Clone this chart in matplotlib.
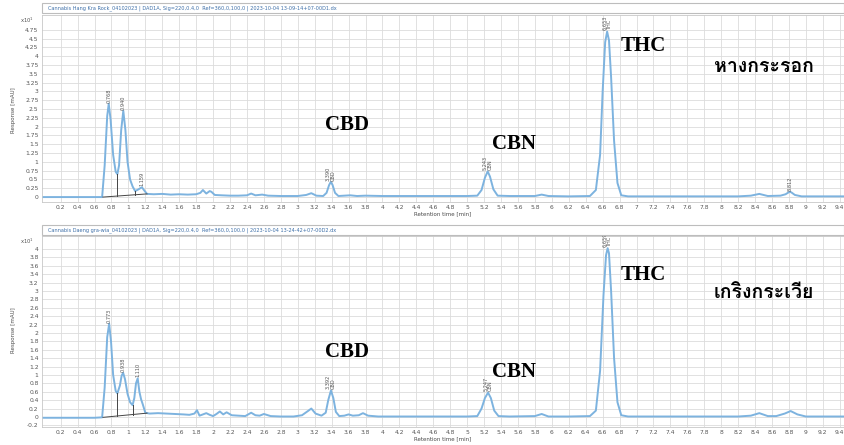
import numpy as np
import matplotlib
matplotlib.use("Agg")
import matplotlib.pyplot as plt
from matplotlib import font_manager as fm
from matplotlib.ft2font import FT2Font
from matplotlib.patches import Rectangle

# ---------------- data ----------------
top_title = "Cannabis Hang Kra Rock_04102023 | DAD1A, Sig=220,0.4,0  Ref=360,0,100,0 | 2023-10-04 13-09-14+07-00D1.dx"
bot_title = "Cannabis Daeng gra-wia_04102023 | DAD1A, Sig=220,0.4,0  Ref=360,0,100,0 | 2023-10-04 13-24-42+07-00D2.dx"

top_t = [0.00, 0.30, 0.60, 0.69, 0.72, 0.75, 0.768, 0.79, 0.82, 0.85, 0.87, 0.89, 0.915, 0.94, 0.965,
         0.99, 1.02, 1.05, 1.08, 1.12, 1.159, 1.19, 1.22, 1.30, 1.40, 1.50, 1.60, 1.70, 1.80, 1.85,
         1.88, 1.92, 1.96, 1.98, 2.02, 2.10, 2.20, 2.30, 2.40, 2.45, 2.50, 2.58, 2.65, 2.80, 3.00,
         3.10, 3.16, 3.22, 3.30, 3.34, 3.37, 3.39, 3.41, 3.44, 3.48, 3.55, 3.62, 3.70, 3.80, 4.00,
         4.50, 5.00, 5.12, 5.17, 5.21, 5.243, 5.27, 5.31, 5.36, 5.50, 5.80, 5.88, 5.96, 6.20, 6.45,
         6.52, 6.57, 6.60, 6.63, 6.653, 6.675, 6.70, 6.735, 6.775, 6.82, 6.90, 7.50, 8.20, 8.35,
         8.45, 8.55, 8.70, 8.76, 8.80, 8.812, 8.83, 8.87, 8.95, 9.45]
top_y = [0.00, 0.00, 0.00, 0.00, 0.90, 2.30, 2.65, 2.20, 1.20, 0.72, 0.65, 0.90, 1.90, 2.45, 1.90,
         1.00, 0.50, 0.30, 0.17, 0.22, 0.28, 0.18, 0.09, 0.08, 0.09, 0.07, 0.08, 0.07, 0.08, 0.12,
         0.20, 0.10, 0.17, 0.15, 0.06, 0.05, 0.04, 0.04, 0.05, 0.10, 0.05, 0.07, 0.04, 0.03, 0.03,
         0.06, 0.11, 0.04, 0.03, 0.12, 0.34, 0.43, 0.35, 0.12, 0.03, 0.04, 0.05, 0.03, 0.04, 0.03,
         0.03, 0.03, 0.04, 0.20, 0.55, 0.73, 0.58, 0.22, 0.04, 0.03, 0.03, 0.07, 0.03, 0.02, 0.03,
         0.20, 1.20, 3.00, 4.40, 4.70, 4.45, 3.40, 1.60, 0.40, 0.05, 0.02, 0.02, 0.02, 0.04,
         0.09, 0.03, 0.04, 0.08, 0.14, 0.15, 0.13, 0.06, 0.02, 0.02]

bot_t = [0.00, 0.30, 0.60, 0.69, 0.72, 0.75, 0.773, 0.795, 0.82, 0.85, 0.87, 0.90, 0.92, 0.938, 0.96,
         0.99, 1.02, 1.05, 1.07, 1.09, 1.110, 1.13, 1.15, 1.17, 1.20, 1.25, 1.35, 1.45, 1.55, 1.65,
         1.72, 1.78, 1.81, 1.84, 1.88, 1.92, 1.96, 2.00, 2.04, 2.08, 2.12, 2.16, 2.22, 2.30, 2.38,
         2.45, 2.50, 2.55, 2.60, 2.68, 2.80, 2.95, 3.05, 3.12, 3.16, 3.21, 3.28, 3.33, 3.36, 3.392,
         3.42, 3.45, 3.49, 3.55, 3.60, 3.65, 3.72, 3.77, 3.83, 3.95, 4.50, 5.00, 5.12, 5.17, 5.21,
         5.247, 5.28, 5.32, 5.37, 5.50, 5.80, 5.88, 5.96, 6.20, 6.45, 6.52, 6.57, 6.61, 6.64, 6.659,
         6.675, 6.70, 6.735, 6.775, 6.82, 6.90, 7.50, 8.20, 8.35, 8.45, 8.55, 8.65, 8.75, 8.82,
         8.90, 9.00, 9.45]
bot_y = [-0.02, -0.02, -0.02, -0.01, 0.70, 1.90, 2.22, 1.80, 1.00, 0.62, 0.56, 0.75, 0.98, 1.05, 0.90,
         0.55, 0.35, 0.28, 0.45, 0.80, 0.92, 0.60, 0.42, 0.30, 0.10, 0.08, 0.09, 0.08, 0.07, 0.06,
         0.05, 0.08, 0.16, 0.03, 0.06, 0.09, 0.05, 0.02, 0.07, 0.13, 0.06, 0.11, 0.04, 0.03, 0.02,
         0.10, 0.04, 0.03, 0.07, 0.02, 0.01, 0.01, 0.04, 0.14, 0.20, 0.08, 0.03, 0.10, 0.40, 0.63,
         0.45, 0.12, 0.02, 0.03, 0.06, 0.03, 0.04, 0.09, 0.03, 0.01, 0.01, 0.01, 0.02, 0.20, 0.45,
         0.58, 0.45, 0.15, 0.02, 0.01, 0.02, 0.07, 0.01, 0.01, 0.02, 0.15, 1.10, 2.90, 3.85, 4.02,
         3.90, 3.00, 1.40, 0.35, 0.04, 0.01, 0.01, 0.01, 0.03, 0.09, 0.02, 0.02, 0.08, 0.14,
         0.06, 0.01, 0.01]

# integration baselines and drop lines
top_base_t = [0.70, 1.22]
top_base_y = [0.00, 0.09]
top_drops = [0.87, 1.08]
bot_base_t = [0.70, 1.22]
bot_base_y = [-0.01, 0.09]
bot_drops = [0.87, 1.05]

# peak labels: retention time, apex height, texts
top_peaks_t = [0.768, 0.940, 1.159, 3.390, 5.243, 6.653, 8.812]
top_peaks_y = [2.65, 2.45, 0.28, 0.43, 0.73, 4.70, 0.15]
top_peaks_lab = [["0.768"], ["0.940"], ["1.159"], ["3.390", "CBD"], ["5.243", "CBN"], ["6.653", "THC"], ["8.812"]]
bot_peaks_t = [0.773, 0.938, 1.110, 3.392, 5.247, 6.659]
bot_peaks_y = [2.22, 1.05, 0.92, 0.63, 0.58, 4.02]
bot_peaks_lab = [["0.773"], ["0.938"], ["1.110"], ["3.392", "CBD"], ["5.247", "CBN"], ["6.659", "THC"]]

# big annotations (x in min, y in data units)
top_notes = [("CBD", 3.58, 2.05), ("CBN", 5.55, 1.50), ("THC", 7.08, 4.30)]
bot_notes = [("CBD", 3.58, 1.55), ("CBN", 5.55, 1.07), ("THC", 7.08, 3.37)]
top_name = ("หางกระรอก", 8.5, 3.70)
bot_name = ("เกริงกระเวีย", 8.5, 2.95)

top_yticks = [0, 0.25, 0.5, 0.75, 1, 1.25, 1.5, 1.75, 2, 2.25, 2.5, 2.75, 3, 3.25, 3.5, 3.75, 4, 4.25, 4.5, 4.75]
bot_yticks = [-0.2, 0, 0.2, 0.4, 0.6, 0.8, 1, 1.2, 1.4, 1.6, 1.8, 2, 2.2, 2.4, 2.6, 2.8, 3, 3.2, 3.4, 3.6, 3.8, 4]
xticks = [round(0.2 * i, 1) for i in range(1, 48)]

# ---------------- fonts ----------------
def find_thai_font():
    best = None
    for f in fm.fontManager.ttflist:
        try:
            ft = FT2Font(f.fname)
            if ft.get_char_index(ord('ก')) and ft.get_char_index(ord('ร')):
                w = f.weight if isinstance(f.weight, int) else (700 if 'bold' in str(f.weight).lower() else 400)
                score = -abs(w - 700)
                if best is None or score > best[0]:
                    best = (score, f.fname)
        except Exception:
            pass
    return best[1] if best else None

thai_path = find_thai_font()
if thai_path:
    thai_fp = fm.FontProperties(fname=thai_path, size=14, weight='bold')
else:
    thai_fp = fm.FontProperties(family='DejaVu Sans', size=14, weight='bold')

serif_bold = fm.FontProperties(family=['Liberation Serif', 'DejaVu Serif'], weight='bold', size=15)

W, H = 844, 445
fig = plt.figure(figsize=(W / 100, H / 100), dpi=100)

trace_c = '#7db3df'
grid_c = '#dcdcdc'
tick_c = '#555555'
label_c = '#4a4a4a'


def px_rect(l, t, r, b):
    return [l / W, 1 - b / H, (r - l) / W, (b - t) / H]


def panel(rect, t, y, ylim, yticks, base_t, base_y, drops, pk_t, pk_y, pk_lab,
          notes, name, title, title_top):
    ax = fig.add_axes(rect)
    ax.set_xlim(-0.02, 9.45)
    ax.set_ylim(*ylim)
    ax.set_xticks(xticks)
    ax.set_xticklabels(['%g' % v for v in xticks])
    ax.set_yticks(yticks)
    ax.set_yticklabels(['%g' % v for v in yticks])
    ax.tick_params(axis='both', length=0, labelsize=4.3, labelcolor=tick_c, pad=2.5)
    ax.grid(True, color=grid_c, lw=0.6)
    ax.set_axisbelow(True)
    for s in ax.spines.values():
        s.set_color('#c8c8c8')
        s.set_linewidth(0.6)
    ax.plot(t, y, color=trace_c, lw=1.4, zorder=3)
    # baseline + drop lines
    ax.plot(base_t, base_y, color='#444444', lw=0.7, zorder=4)
    for d in drops:
        yb = np.interp(d, base_t, base_y)
        yt = np.interp(d, t, y)
        ax.plot([d, d], [yb, yt], color='#444444', lw=0.7, zorder=4)
    # peak labels
    for pt, py, labs in zip(pk_t, pk_y, pk_lab):
        n = len(labs)
        for i, lab in enumerate(labs):
            dx = (i - (n - 1) / 2) * 0.055
            ax.text(pt + dx, py + 0.03 * (ylim[1] - ylim[0]) / 5, lab, rotation=90,
                    fontsize=3.6, color='#555555', ha='center', va='bottom', zorder=5)
    for txt, nx, ny in notes:
        ax.text(nx, ny, txt, fontproperties=serif_bold, ha='center', va='center', color='black', zorder=6)
    ax.text(name[1], name[2], name[0], fontproperties=thai_fp, ha='center', va='center', color='black', zorder=6)
    ax.set_xlabel('Retention time [min]', fontsize=4.0, color=label_c, labelpad=0.5)
    # title bar
    fig.patches.append(Rectangle((42 / W, 1 - (title_top + 10) / H), (W - 42) / W, 10 / H,
                                 transform=fig.transFigure, facecolor='white',
                                 edgecolor='#bdbdbd', lw=0.8))
    fig.text(48 / W, 1 - (title_top + 5) / H, title, fontsize=3.6, color='#3d6fa8',
             ha='left', va='center')
    return ax


ax1 = panel(px_rect(42, 15, 844, 202), top_t, top_y, (-0.14, 5.17), top_yticks,
            top_base_t, top_base_y, top_drops, top_peaks_t, top_peaks_y, top_peaks_lab,
            top_notes, top_name, top_title, 3)
ax2 = panel(px_rect(42, 236, 844, 427), bot_t, bot_y, (-0.24, 4.31), bot_yticks,
            bot_base_t, bot_base_y, bot_drops, bot_peaks_t, bot_peaks_y, bot_peaks_lab,
            bot_notes, bot_name, bot_title, 225)

fig.text(27 / W, 1 - 20 / H, r'x10$^{1}$', fontsize=3.8, color=tick_c, ha='center', va='center')
fig.text(27 / W, 1 - 241 / H, r'x10$^{1}$', fontsize=3.8, color=tick_c, ha='center', va='center')
fig.text(14 / W, 1 - 110 / H, 'Response [mAU]', rotation=90, fontsize=4.0, color=label_c, ha='center', va='center')
fig.text(14 / W, 1 - 330 / H, 'Response [mAU]', rotation=90, fontsize=4.0, color=label_c, ha='center', va='center')

fig.savefig('out.png', dpi=100)
